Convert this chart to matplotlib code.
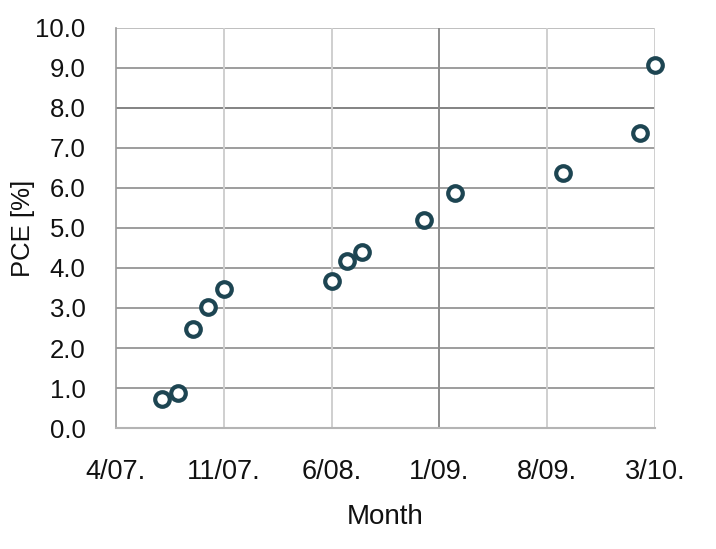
import numpy as np
import matplotlib.pyplot as plt

# months counted from April 2007
month_idx = [3, 4, 5, 6, 7, 14, 15, 16, 20, 22, 29, 34, 35]
pce = [0.72, 0.87, 2.47, 3.02, 3.47, 3.68, 4.18, 4.4, 5.2, 5.87, 6.38, 7.38, 9.07]

tick_months = [0, 7, 14, 21, 28, 35]
tick_labels = ['4/07.', '11/07.', '6/08.', '1/09.', '8/09.', '3/10.']
y_ticks = np.arange(0, 11, 1)

plt.rcParams['font.family'] = ['Liberation Sans', 'DejaVu Sans']

fig = plt.figure(figsize=(7.16, 5.49), dpi=100)
ax = fig.add_axes([0.162, 0.2204, 0.753, 0.7286])

ax.set_xlim(0, 35)
ax.set_ylim(0, 10)

# grid lines, a few darker like the original
for y in y_ticks[1:]:
    c = '#6e6e6e' if y == 8 else '#8c8c8c'
    if y == 10:
        c = '#b4b4b4'
    ax.axhline(y, color=c, lw=1.2, zorder=1)
for m in tick_months[1:]:
    c = '#8c8c8c' if m == 21 else '#cfcfcf'
    ax.axvline(m, color=c, lw=1.4, zorder=1)

ax.scatter(month_idx, pce, s=110, facecolor='white', edgecolor='#1d4552',
           linewidth=3, zorder=3, clip_on=False)

ax.set_xticks(tick_months)
ax.set_xticklabels(tick_labels, fontsize=19.5)
ax.set_yticks(y_ticks)
ax.set_yticklabels([f'{v:.1f}' for v in y_ticks], fontsize=18.5)
ax.tick_params(length=0, colors='#111111')
ax.tick_params(axis='y', pad=22)
ax.tick_params(axis='x', pad=22)

for s in ['top', 'right']:
    ax.spines[s].set_visible(False)
ax.spines['left'].set_color('#9a9a9a')
ax.spines['bottom'].set_color('#b4b4b4')
ax.spines['left'].set_linewidth(1.2)
ax.spines['bottom'].set_linewidth(1.5)

ax.set_xlabel('Month', fontsize=20, labelpad=14, color='#111111')
ax.set_ylabel('PCE [%]', fontsize=18.5, labelpad=0, color='#111111')

fig.savefig('out.png', dpi=100)
